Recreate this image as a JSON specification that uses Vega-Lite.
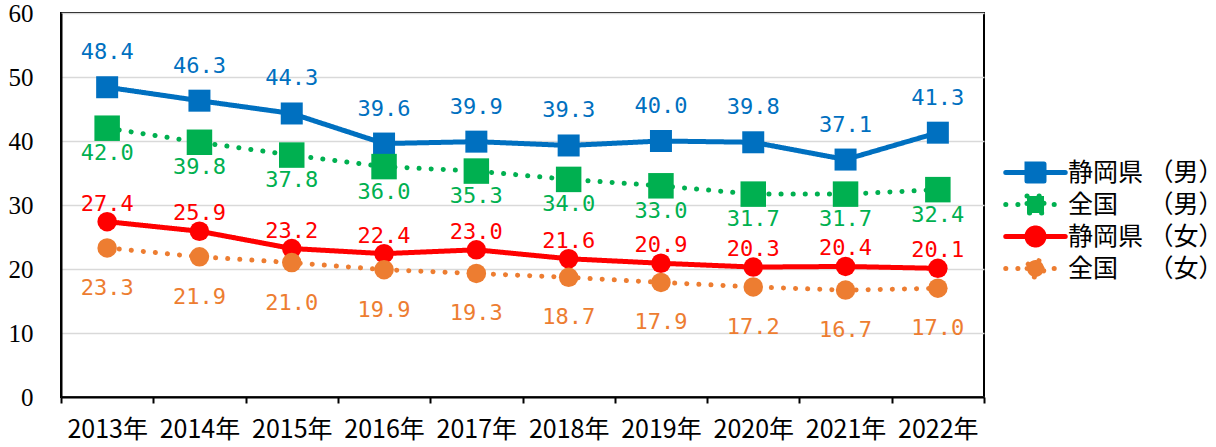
{
  "$schema": "https://vega.github.io/schema/vega-lite/v6.json",
  "autosize": {"type": "none"},
  "width": 923,
  "height": 384,
  "padding": {"left": 61, "top": 13, "right": 232, "bottom": 50},
  "background": "white",
  "config": {
    "view": {"stroke": "black", "strokeWidth": 2},
    "axis": {"domainColor": "black", "domainWidth": 2, "tickColor": "black", "tickWidth": 2, "labelColor": "black", "titleColor": "black"}
  },
  "data": {
    "values": [
      {"year": "2013年", "series": "静岡県（男）", "value": 48.4},
      {"year": "2014年", "series": "静岡県（男）", "value": 46.3},
      {"year": "2015年", "series": "静岡県（男）", "value": 44.3},
      {"year": "2016年", "series": "静岡県（男）", "value": 39.6},
      {"year": "2017年", "series": "静岡県（男）", "value": 39.9},
      {"year": "2018年", "series": "静岡県（男）", "value": 39.3},
      {"year": "2019年", "series": "静岡県（男）", "value": 40.0},
      {"year": "2020年", "series": "静岡県（男）", "value": 39.8},
      {"year": "2021年", "series": "静岡県（男）", "value": 37.1},
      {"year": "2022年", "series": "静岡県（男）", "value": 41.3},
      {"year": "2013年", "series": "全国　（男）", "value": 42.0},
      {"year": "2014年", "series": "全国　（男）", "value": 39.8},
      {"year": "2015年", "series": "全国　（男）", "value": 37.8},
      {"year": "2016年", "series": "全国　（男）", "value": 36.0},
      {"year": "2017年", "series": "全国　（男）", "value": 35.3},
      {"year": "2018年", "series": "全国　（男）", "value": 34.0},
      {"year": "2019年", "series": "全国　（男）", "value": 33.0},
      {"year": "2020年", "series": "全国　（男）", "value": 31.7},
      {"year": "2021年", "series": "全国　（男）", "value": 31.7},
      {"year": "2022年", "series": "全国　（男）", "value": 32.4},
      {"year": "2013年", "series": "静岡県（女）", "value": 27.4},
      {"year": "2014年", "series": "静岡県（女）", "value": 25.9},
      {"year": "2015年", "series": "静岡県（女）", "value": 23.2},
      {"year": "2016年", "series": "静岡県（女）", "value": 22.4},
      {"year": "2017年", "series": "静岡県（女）", "value": 23.0},
      {"year": "2018年", "series": "静岡県（女）", "value": 21.6},
      {"year": "2019年", "series": "静岡県（女）", "value": 20.9},
      {"year": "2020年", "series": "静岡県（女）", "value": 20.3},
      {"year": "2021年", "series": "静岡県（女）", "value": 20.4},
      {"year": "2022年", "series": "静岡県（女）", "value": 20.1},
      {"year": "2013年", "series": "全国　（女）", "value": 23.3},
      {"year": "2014年", "series": "全国　（女）", "value": 21.9},
      {"year": "2015年", "series": "全国　（女）", "value": 21.0},
      {"year": "2016年", "series": "全国　（女）", "value": 19.9},
      {"year": "2017年", "series": "全国　（女）", "value": 19.3},
      {"year": "2018年", "series": "全国　（女）", "value": 18.7},
      {"year": "2019年", "series": "全国　（女）", "value": 17.9},
      {"year": "2020年", "series": "全国　（女）", "value": 17.2},
      {"year": "2021年", "series": "全国　（女）", "value": 16.7},
      {"year": "2022年", "series": "全国　（女）", "value": 17.0}
    ]
  },
  "encoding": {
    "x": {
      "field": "year", "type": "nominal", "sort": null,
      "scale": {"type": "band", "paddingInner": 0, "paddingOuter": 0},
      "axis": {"title": null, "labelAngle": 0, "tickBand": "extent", "tickSize": 6, "grid": false,
               "labelFont": "Liberation Sans Narrow, Noto Sans CJK JP", "labelFontSize": 25, "labelPadding": 14}
    },
    "y": {
      "field": "value", "type": "quantitative",
      "scale": {"domain": [0, 60], "nice": false, "zero": true},
      "axis": {"title": null, "values": [0, 10, 20, 30, 40, 50, 60], "ticks": false, "tickSize": 0,
               "grid": true, "gridColor": "#D9D9D9", "gridWidth": 1.5,
               "labelFont": "Liberation Sans Narrow", "labelFontSize": 25, "labelPadding": 28}
    }
  },
  "layer": [
    {
      "mark": {"type": "line", "strokeWidth": 5, "strokeCap": "round", "strokeJoin": "round"},
      "encoding": {
        "color": {
          "field": "series", "type": "nominal",
          "scale": {"domain": ["静岡県（男）", "全国　（男）", "静岡県（女）", "全国　（女）"],
                    "range": ["#0070C0", "#00B050", "#FF0000", "#ED7D31"]},
          "legend": {
            "title": null, "orient": "none", "legendX": 962, "legendY": 147, "padding": 0,
            "symbolType": "M-3.5,0H3.5M-1,-1H1V1H-1Z",
            "symbolSize": 289, "symbolStrokeWidth": 5,
            "labelFont": "Noto Sans CJK JP", "labelFontSize": 25, "labelColor": "black",
            "labelLimit": 400,
            "labelExpr": "replace(datum.label, '（', ' （')",
            "labelOffset": 20, "rowPadding": -5,
            "encode": {
              "symbols": {
                "update": {
                  "shape": {"signal": "indexof(datum.value, '女') >= 0 ? 'M-3.5,0H3.5M-1,0A1,1 0 1,0 1,0A1,1 0 1,0 -1,0Z' : 'M-3.5,0H3.5M-1,-1H1V1H-1Z'"},
                  "fill": {"signal": "scale('color', datum.value)"},
                  "strokeCap": {"value": "round"}
                }
              }
            }
          }
        },
        "strokeDash": {
          "field": "series", "type": "nominal",
          "scale": {"domain": ["静岡県（男）", "全国　（男）", "静岡県（女）", "全国　（女）"],
                    "range": [[1, 0], [0.1, 12], [1, 0], [0.1, 12]]},
          "legend": null
        }
      }
    },
    {
      "transform": [{"filter": "datum.series == '静岡県（男）'"}],
      "mark": {"type": "point", "filled": true, "opacity": 1, "shape": "square", "size": 484, "color": "#0070C0"}
    },
    {
      "transform": [{"filter": "datum.series == '全国　（男）'"}],
      "mark": {"type": "point", "filled": true, "opacity": 1, "shape": "square", "size": 650, "color": "#00B050"}
    },
    {
      "transform": [{"filter": "datum.series == '静岡県（女）'"}],
      "mark": {"type": "point", "filled": true, "opacity": 1, "shape": "circle", "size": 380, "color": "#FF0000"}
    },
    {
      "transform": [{"filter": "datum.series == '全国　（女）'"}],
      "mark": {"type": "point", "filled": true, "opacity": 1, "shape": "circle", "size": 380, "color": "#ED7D31"}
    },
    {
      "transform": [{"filter": "datum.series == '静岡県（男）'"}],
      "mark": {"type": "text", "dy": -35, "font": "DejaVu Sans Mono", "fontSize": 22, "color": "#0070C0"},
      "encoding": {"text": {"field": "value", "type": "quantitative", "format": ".1f"}}
    },
    {
      "transform": [{"filter": "datum.series == '全国　（男）'"}],
      "mark": {"type": "text", "dy": 25, "font": "DejaVu Sans Mono", "fontSize": 22, "color": "#00B050"},
      "encoding": {"text": {"field": "value", "type": "quantitative", "format": ".1f"}}
    },
    {
      "transform": [{"filter": "datum.series == '静岡県（女）'"}],
      "mark": {"type": "text", "dy": -18, "font": "DejaVu Sans Mono", "fontSize": 22, "color": "#FF0000"},
      "encoding": {"text": {"field": "value", "type": "quantitative", "format": ".1f"}}
    },
    {
      "transform": [{"filter": "datum.series == '全国　（女）'"}],
      "mark": {"type": "text", "dy": 40, "font": "DejaVu Sans Mono", "fontSize": 22, "color": "#ED7D31"},
      "encoding": {"text": {"field": "value", "type": "quantitative", "format": ".1f"}}
    }
  ]
}
